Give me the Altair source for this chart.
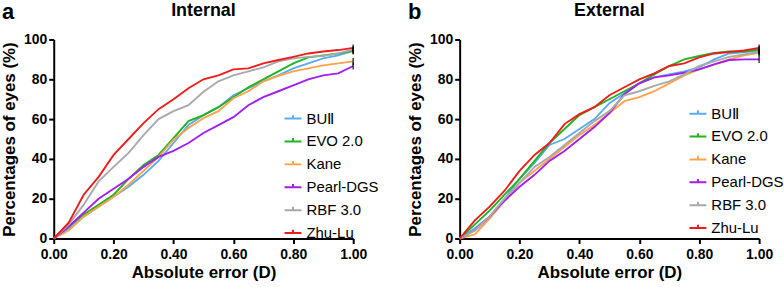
import altair as alt
import pandas as pd

# ---------------- data ----------------
series_names = ["BU\u2161", "EVO 2.0", "Kane", "Pearl-DGS", "RBF 3.0", "Zhu-Lu"]
series_colors = ["#5aabf2", "#1fb51f", "#ffa24a", "#a21ff0", "#a9a9a9", "#ee1c1c"]

x_values = [0.00, 0.05, 0.10, 0.15, 0.20, 0.25, 0.30, 0.35, 0.40, 0.45, 0.50,
            0.55, 0.60, 0.65, 0.70, 0.75, 0.80, 0.85, 0.90, 0.95, 1.00]

# Internal validation: cumulative % of eyes within absolute error
int_bu2  = [0, 5, 11, 16, 21, 26, 32, 39, 48, 57, 62, 66, 72, 75.5, 79, 82, 85.5, 88, 90.5, 92, 94.3]
int_evo  = [0, 6, 12, 17, 22, 30, 37, 42, 50.5, 59, 62, 66, 71, 76, 80, 84, 88, 91, 92, 93, 94.3]
int_kane = [0, 4, 11, 16, 21, 27, 34, 41, 49.7, 55.5, 60.5, 64, 70.5, 74, 79, 81.7, 84, 85.5, 87, 88, 89]
int_pearl = [0, 6, 13, 20, 25, 30, 36, 41, 44, 48, 53, 57, 61, 67, 71, 74, 77, 80, 82, 83, 86.7]
int_rbf  = [0, 7, 17, 28.7, 36, 43, 52, 60, 64, 67, 73.7, 79, 82, 84, 86, 89, 90.5, 91.3, 91.7, 93, 95]
int_zhu  = [0, 8, 22, 31, 42, 50, 58, 65, 70, 75.5, 80, 82, 85, 85.5, 88, 89.7, 91.3, 93, 94, 94.7, 95.8]

# External validation
ext_bu2  = [0, 5, 11, 20, 30, 38, 47, 50, 55, 60, 68, 73, 78, 81, 82.5, 84, 86, 90, 93, 93.7, 94.2]
ext_evo  = [0, 7, 14, 22, 30, 39, 48, 55, 62, 66, 70, 74, 78, 82.5, 86.7, 90, 91.7, 93.3, 94, 94, 95]
ext_kane = [0, 2, 10, 19, 28, 34, 40, 46, 52, 57, 63, 69, 71, 74, 78, 82, 85, 87.5, 90, 92, 93.3]
ext_pearl = [0, 4, 11, 19, 26, 32, 39, 44, 50, 56, 63, 72.5, 78, 81, 82, 83.3, 85, 87.5, 89.7, 90, 90]
ext_rbf  = [0, 4, 11, 20, 28, 36, 41, 47, 53, 59, 64, 72, 74, 76.7, 79, 82.5, 86.7, 89, 91.3, 92.5, 93.7]
ext_zhu  = [0, 9, 16, 24, 34, 42, 48, 57.5, 62.5, 66, 72, 76, 80, 83, 86.7, 88, 91, 93, 93.7, 94.5, 95.8]

internal = [int_bu2, int_evo, int_kane, int_pearl, int_rbf, int_zhu]
external = [ext_bu2, ext_evo, ext_kane, ext_pearl, ext_rbf, ext_zhu]

x_ticks = [0.0, 0.2, 0.4, 0.6, 0.8, 1.0]
y_ticks = [0, 20, 40, 60, 80, 100]


def long_frame(groups):
    rows = []
    for name, vals in zip(series_names, groups):
        for xv, yv in zip(x_values, vals):
            rows.append({"x": xv, "y": yv, "series": name})
    return pd.DataFrame(rows)


def end_frame(groups):
    return pd.DataFrame({"x": [x_values[-1]] * len(groups),
                         "y": [g[-1] for g in groups],
                         "series": series_names})


FONT = "Liberation Sans"
W, H = 301, 200


def panel(groups, title, letter, lx, ly):
    df = long_frame(groups)
    x_enc = alt.X("x:Q", scale=alt.Scale(domain=[0, 1], nice=False, zero=False),
                  axis=alt.Axis(values=x_ticks, format=".2f", title="Absolute error (D)",
                                labelOverlap=False, labelFlush=False))
    y_enc = alt.Y("y:Q", scale=alt.Scale(domain=[0, 100], nice=False),
                  axis=alt.Axis(values=y_ticks, title="Percentages of eyes (%)",
                                labelOverlap=False, labelFlush=False))
    lines = alt.Chart(df).mark_line(strokeWidth=1.9).encode(
        x=x_enc,
        y=y_enc,
        color=alt.Color("series:N",
                        scale=alt.Scale(domain=series_names, range=series_colors),
                        legend=alt.Legend(orient="none", legendX=lx, legendY=ly, title=None)),
    )
    ends = alt.Chart(end_frame(groups)).mark_tick(
        color="black", orient="vertical", size=7, thickness=1.6
    ).encode(x=x_enc, y=y_enc)
    lab = alt.Chart(pd.DataFrame({"t": [letter]})).mark_text(
        font=FONT, fontSize=22, fontWeight="bold", align="left", baseline="alphabetic", color="black"
    ).encode(x=alt.value(-52), y=alt.value(-21), text="t:N")
    ttl = alt.Chart(pd.DataFrame({"t": [title]})).mark_text(
        font=FONT, fontSize=18, fontWeight="bold", align="center", baseline="alphabetic", color="black"
    ).encode(x=alt.value(W / 2), y=alt.value(-24), text="t:N")
    return alt.layer(lines, ends, lab, ttl).properties(width=W, height=H)


left = panel(internal, "Internal", "a", 231, 70)
right = panel(external, "External", "b", 230, 65)

chart = alt.hconcat(left, right, spacing=107, bounds="flush").resolve_scale(
    color="independent"
).properties(
    padding={"top": 0, "left": 0, "right": 0, "bottom": 0}
).configure_view(stroke=None).configure_axis(
    grid=False,
    domainColor="black", domainWidth=2,
    tickColor="black", tickWidth=2, tickSize=5,
    labelFont=FONT, labelFontSize=14, labelFontWeight="bold", labelColor="black",
    titleFont=FONT, titleFontSize=17, titleFontWeight="bold", titleColor="black",
).configure_axisX(labelPadding=4, titlePadding=3).configure_axisY(
    labelPadding=2, titlePadding=5
).configure_legend(
    labelFont=FONT, labelFontSize=15, labelColor="black",
    symbolType="M-1,0L1,0M0,0L0,-0.4", symbolSize=289, symbolStrokeWidth=2,
    labelOffset=4, rowPadding=5,
)

chart.save("out.html", embed_options={"renderer": "svg", "actions": False})
